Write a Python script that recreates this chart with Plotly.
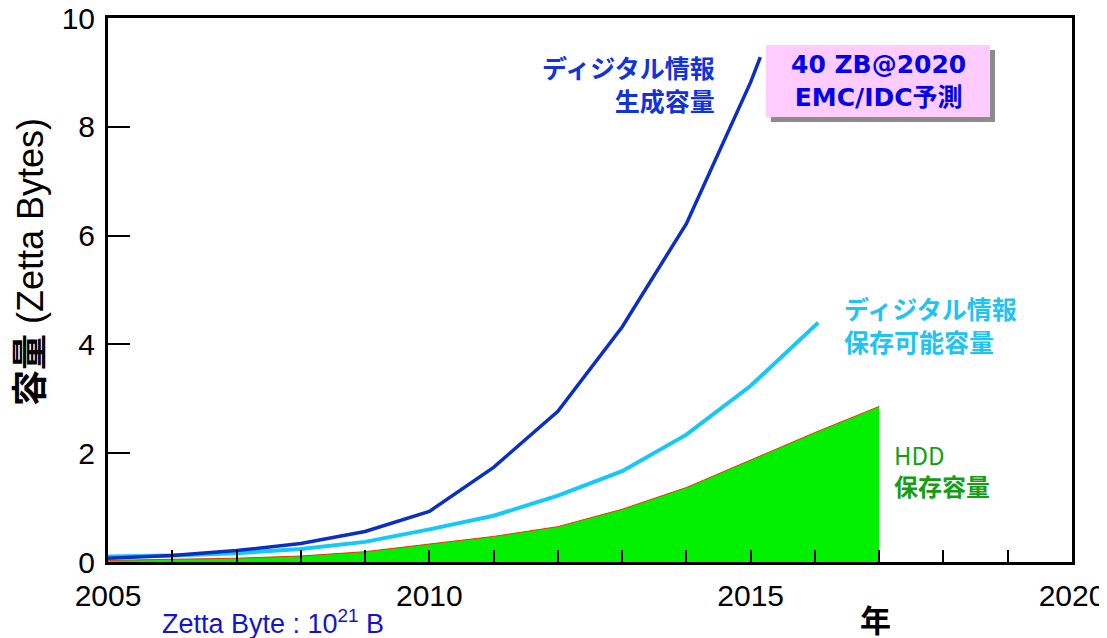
import plotly.graph_objects as go

# ---- data ----
years_gen = [2005, 2006, 2007, 2008, 2009, 2010, 2011, 2012, 2013, 2014, 2015, 2015.15]
gen_zb = [0.07, 0.12, 0.21, 0.34, 0.56, 0.93, 1.74, 2.77, 4.32, 6.22, 8.82, 9.28]

years_store = [2005, 2006, 2007, 2008, 2009, 2010, 2011, 2012, 2013, 2014, 2015, 2016.05]
store_zb = [0.10, 0.12, 0.16, 0.24, 0.37, 0.60, 0.85, 1.22, 1.67, 2.34, 3.24, 4.40]

years_hdd = [2005, 2006, 2007, 2008, 2009, 2010, 2011, 2012, 2013, 2014, 2015, 2016, 2017]
hdd_zb = [0.03, 0.05, 0.07, 0.11, 0.19, 0.33, 0.47, 0.65, 0.97, 1.37, 1.88, 2.38, 2.86]

x_tickvals = list(range(2005, 2021))
x_ticktext = [str(y) if y % 5 == 0 else "" for y in x_tickvals]
y_tickvals = [0, 2, 4, 6, 8, 10]

LAT = "Liberation Sans, Arial, Noto Sans CJK JP"
CJK = "Noto Sans CJK JP, Liberation Sans"
BOX = "DejaVu Sans, Noto Sans CJK JP"

# ---- geometry (page pixels; the page body adds an 8px offset) ----
OFF = 8
W, H = 1107 - OFF, 638 - OFF
L, R, T, B = 108 - OFF, 35, 18 - OFF, 76
PW, PH = W - L - R, H - T - B


def px(x):
    return (x - OFF - L) / PW


def py(y):
    return (H - B - (y - OFF)) / PH


fig = go.Figure()

fig.add_trace(go.Scatter(
    x=years_hdd, y=hdd_zb, mode="lines", fill="tozeroy",
    fillcolor="#00f000", line=dict(color="#ff2a00", width=1),
    showlegend=False, hoverinfo="skip"))

fig.add_trace(go.Scatter(
    x=years_store, y=store_zb, mode="lines",
    line=dict(color="#14c8f8", width=4), showlegend=False))

fig.add_trace(go.Scatter(
    x=years_gen, y=gen_zb, mode="lines",
    line=dict(color="#0b2fc0", width=3.5), showlegend=False))

shapes = [
    dict(type="rect", xref="paper", yref="paper",
         x0=px(771), x1=px(995), y0=py(122), y1=py(50),
         fillcolor="#8c8c8c", line=dict(width=0), layer="above"),
    dict(type="rect", xref="paper", yref="paper",
         x0=px(766), x1=px(990), y0=py(117), y1=py(45),
         fillcolor="#ffccff", line=dict(width=0), layer="above"),
]

annotations = [
    dict(text="<b>ディジタル情報<br>生成容量</b>", x=px(717), y=py(83),
         xanchor="right", yanchor="middle", align="right",
         font=dict(family=CJK, size=25, color="#1232dc")),
    dict(text="<b>ディジタル情報<br>保存可能容量</b>", x=px(842), y=py(324),
         xanchor="left", yanchor="middle", align="left",
         font=dict(family=CJK, size=25, color="#1ec4f2")),
    dict(text="HDD<br><b>保存容量</b>", x=px(892), y=py(470),
         xanchor="left", yanchor="middle", align="left",
         font=dict(family=CJK, size=24, color="#12a012")),
    dict(text="<b>40 ZB@2020<br>EMC/IDC予測</b>", x=px(878), y=py(81),
         xanchor="center", yanchor="middle", align="center",
         font=dict(family=BOX, size=25, color="#0000ee")),
    dict(text="<b>容量</b> (Zetta Bytes)", x=px(31), y=py(262),
         xanchor="center", yanchor="middle", textangle=-90,
         font=dict(family=LAT, size=36, color="black")),
    dict(text="<b>年</b>", x=px(875), y=py(618),
         xanchor="center", yanchor="middle",
         font=dict(family=CJK, size=31, color="black")),
    dict(text="Zetta Byte : 10<sup>21</sup> B", x=px(160), y=py(622),
         xanchor="left", yanchor="middle",
         font=dict(family=LAT, size=27, color="#1414cc")),
]
for a in annotations:
    a.update(xref="paper", yref="paper", showarrow=False)

fig.update_layout(
    width=W, height=H,
    margin=dict(l=L, r=R, t=T, b=B, autoexpand=False),
    plot_bgcolor="white", paper_bgcolor="white",
    shapes=shapes, annotations=annotations,
    showlegend=False,
    xaxis=dict(range=[2005, 2020], tickmode="array", tickvals=x_tickvals,
               ticktext=x_ticktext, ticks="inside", ticklen=12, tickwidth=2,
               tickcolor="black", showline=True, linecolor="black",
               linewidth=3, mirror=True, showgrid=False, zeroline=False,
               automargin=False, ticklabelstandoff=5,
               ticklabeloverflow="allow",
               tickfont=dict(family=LAT, size=30, color="black")),
    yaxis=dict(range=[0, 10], tickmode="array", tickvals=y_tickvals,
               ticks="inside", ticklen=22, tickwidth=2, tickcolor="black",
               showline=True, linecolor="black", linewidth=3, mirror=True,
               showgrid=False, zeroline=False, automargin=False,
               ticklabelstandoff=4, ticklabeloverflow="allow",
               tickfont=dict(family=LAT, size=30, color="black")),
)

fig.write_html("out.html")
